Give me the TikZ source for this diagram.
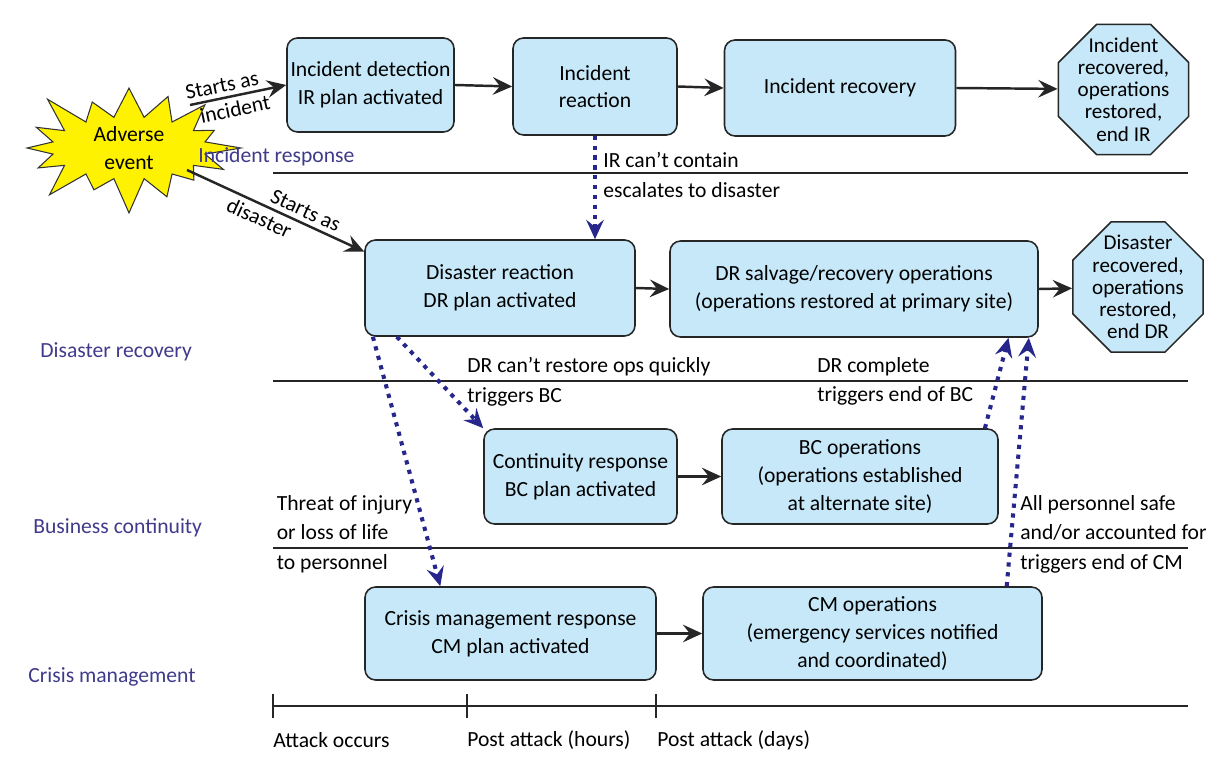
\documentclass[tikz,border=0pt]{standalone}
\usepackage{fontspec}
\setmainfont{Carlito}
\usepackage{xcolor}
\usepackage{tikz}
\usetikzlibrary{shapes.geometric, shapes.symbols, arrows.meta, positioning, calc}

\definecolor{boxblue}{RGB}{198,232,249}
\definecolor{navy}{RGB}{38,38,140}
\definecolor{lanecol}{RGB}{64,58,138}
\definecolor{burstyellow}{RGB}{255,242,0}

\begin{document}
\begin{tikzpicture}[
    font=\fontsize{12.3}{15.8}\selectfont,
    >=Stealth,
    % Node styles
    phasebox/.style={draw=black!85, rounded corners=6pt, fill=boxblue, align=center, inner sep=2pt, line width=0.9pt},
    endbox/.style={draw=black!85, regular polygon, regular polygon sides=8, fill=boxblue, inner sep=0pt, minimum size=2.82cm, line width=0.9pt},
    endtext/.style={align=center, inner sep=0pt, font=\fontsize{12}{12.6}\selectfont},
    lanelabel/.style={anchor=west, inner sep=0pt, text=lanecol},
    cuelabel/.style={anchor=west, align=left, inner sep=0pt, font=\fontsize{12.3}{16.8}\selectfont},
    ticklabel/.style={anchor=west, inner sep=0pt},
    slopelabel/.style={sloped, inner sep=2.5pt},
    lane/.style={line width=1.1pt, draw=black!85},
    arrow/.style={-{Stealth[length=11pt, width=10pt, inset=4pt]}, line width=1.4pt, draw=black!85},
    escarrow/.style={-{Stealth[length=11pt, width=10pt, inset=4pt]}, draw=navy, line width=2.3pt, dash pattern=on 2.4pt off 3.2pt}
]
\useasboundingbox (0,0) rectangle (24.54,-15.34);

% ========== Adverse event ==========
\node[starburst, starburst points=16, starburst point height=0.8cm, fill=burstyellow, draw=black!80, line width=0.6pt, minimum width=4.7cm, minimum height=2.85cm, align=center, inner sep=0pt, font=\fontsize{12.3}{16}\selectfont] (adverse) at (2.58,-2.96) {Adverse\\event};
\coordinate (incstart) at (3.80,-2.10);
\coordinate (disstart) at (3.74,-3.40);

% ========== Lanes ==========
\foreach \y in {-3.46,-7.62,-10.96}
    \draw[lane] (5.46,\y) -- (23.76,\y);

\node[lanelabel] (irlane) at (3.96,-3.14) {Incident response};
\node[lanelabel] (drlane) at (0.80,-7.04) {Disaster recovery};
\node[lanelabel] (bclane) at (0.66,-10.56) {Business continuity};
\node[lanelabel] (cmlane) at (0.56,-13.54) {Crisis management};

% ========== Incident response ==========
\node[phasebox, minimum width=3.34cm, minimum height=1.88cm] (irdetect) at (7.41,-1.70) {Incident detection\\IR plan activated};
\node[phasebox, minimum width=3.28cm, minimum height=1.94cm] (irreact) at (11.90,-1.73) {Incident\\reaction};
\node[phasebox, minimum width=4.62cm, minimum height=1.92cm] (irrecover) at (16.80,-1.76) {Incident recovery};
\node[endbox, label={[endtext]center:Incident\\recovered,\\operations\\restored,\\end IR}] (irend) at (22.47,-1.79) {};

% ========== Disaster recovery ==========
\node[phasebox, minimum width=5.40cm, minimum height=1.92cm] (drreact) at (10.00,-5.76) {Disaster reaction\\DR plan activated};
\node[phasebox, minimum width=7.36cm, minimum height=1.92cm] (drsalvage) at (17.08,-5.78) {DR salvage/recovery operations\\(operations restored at primary site)};
\node[endbox, label={[endtext]center:Disaster\\recovered,\\operations\\restored,\\end DR}] (drend) at (22.76,-5.74) {};

% ========== Business continuity ==========
\node[phasebox, minimum width=3.86cm, minimum height=1.90cm] (bcresp) at (11.61,-9.53) {Continuity response\\BC plan activated};
\node[phasebox, minimum width=5.52cm, minimum height=1.90cm] (bcops) at (17.20,-9.53) {BC operations\\(operations established\\at alternate site)};

% ========== Crisis management ==========
\node[phasebox, minimum width=5.82cm, minimum height=1.86cm] (cmresp) at (10.21,-12.67) {Crisis management response\\CM plan activated};
\node[phasebox, minimum width=6.78cm, minimum height=1.86cm] (cmops) at (17.45,-12.67) {CM operations\\(emergency services notified\\and coordinated)};

% ========== Trigger labels ==========
\node[cuelabel] (irfail) at (12.06,-3.50) {IR can't contain\\escalates to disaster};
\node[cuelabel] (drfail) at (9.34,-7.63) {DR can't restore ops quickly\\triggers BC};
\node[cuelabel] (drdone) at (16.34,-7.63) {DR complete\\triggers end of BC};
\node[cuelabel] (threat) at (5.53,-10.68) {Threat of injury\\or loss of life\\to personnel};
\node[cuelabel] (allsafe) at (20.40,-10.68) {All personnel safe\\and/or accounted for\\triggers end of CM};

% ========== Timeline ==========
\draw[lane] (5.46,-14.12) -- (23.76,-14.12);
\foreach \x in {5.46,9.34,13.12}
    \draw[lane] (\x,-13.88) -- (\x,-14.36);
\node[ticklabel] (attack) at (5.46,-14.80) {Attack occurs};
\node[ticklabel] (hours) at (9.34,-14.80) {Post attack (hours)};
\node[ticklabel] (days) at (13.14,-14.80) {Post attack (days)};

% ========== ARROWS ==========
% Adverse event to IR / DR
\draw[arrow] (incstart) -- node[slopelabel, above, pos=0.36] {Starts as} node[slopelabel, below, pos=0.44] {incident} (irdetect.west);
\draw[arrow] (disstart) -- node[slopelabel, above, pos=0.64] {Starts as} node[slopelabel, below, pos=0.44] {disaster} (drreact.165);

% Within each lane
\draw[arrow] (irdetect.east) -- (irreact.west);
\draw[arrow] (irreact.east) -- (irrecover.west);
\draw[arrow] (irrecover.east) -- (irend);
\draw[arrow] (drreact.east) -- (drsalvage.west);
\draw[arrow] (drsalvage.east) -- (drend);
\draw[arrow] (bcresp.east) -- (bcops.west);
\draw[arrow] (cmresp.east) -- (cmops.west);

% Escalations and hand-backs
\draw[escarrow] (irreact.south) -- (irreact.south |- drreact.north);
\draw[escarrow] ($(drreact.south west)!0.12!(drreact.south east)$) -- (bcresp.north west);
\draw[escarrow] (drreact.201) -- ($(cmresp.north west)!0.26!(cmresp.north east)$);
\draw[escarrow] ($(bcops.north west)!0.95!(bcops.north east)$) -- ($(drsalvage.south west)!0.918!(drsalvage.south east)$);
\draw[escarrow] ($(cmops.north west)!0.894!(cmops.north east)$) -- ($(drsalvage.south west)!0.973!(drsalvage.south east)$);

\end{tikzpicture}
\end{document}
